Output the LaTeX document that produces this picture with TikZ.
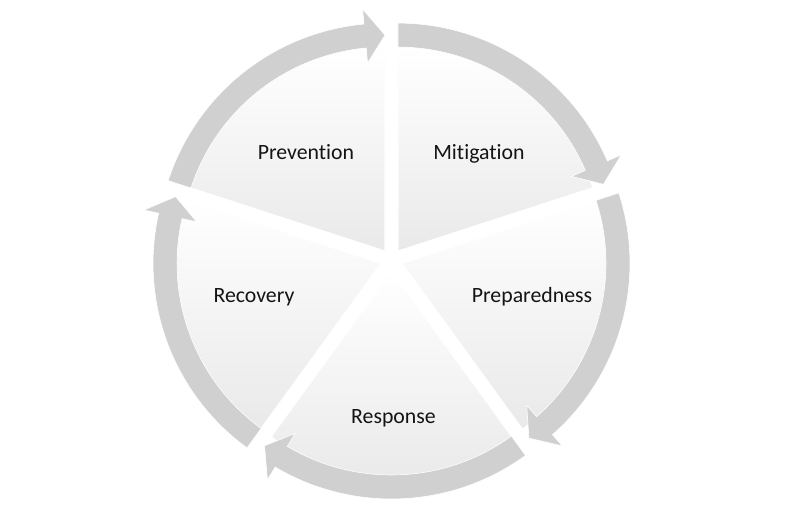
\documentclass[tikz,border=0pt]{standalone}
\usepackage{fontspec}
\setmainfont{Carlito}[Ligatures=NoCommon]
\definecolor{bandgray}{RGB}{208,208,208}
\definecolor{secgray}{RGB}{233,233,233}
\begin{document}
\begin{tikzpicture}[x=1pt,y=1pt,
  sector/.style={top color=white, bottom color=secgray, draw=white, line width=1.2pt},
  band/.style={fill=bandgray, draw=white, line width=0.6pt, line join=miter},
  lbl/.style={font=\fontsize{21.8}{26}\selectfont, text=black!92, anchor=base, inner sep=0pt}]
\fill[white] (0,0) rectangle (786,524);
\useasboundingbox (0,0) rectangle (786,524);
\coordinate (C) at (391.5,264);
\foreach \b in {126,54,-18,-90,198} {
  \pgfmathsetmacro\aa{\b+36}
  \pgfmathsetmacro\ab{\b-36}
  \pgfmathsetmacro\ah{\b-36+5.3}
  \begin{scope}[shift={(C)}]
  \begin{scope}[shift={(\b:11)}]
    \path[sector] (0,0) -- (\aa:205) arc[start angle=\aa, end angle=\ab, radius=205] -- cycle;
    \path[band] (\aa:228) arc[start angle=\aa, end angle=\ah, radius=228]
      -- (\ah:243) -- (\ab:216) -- (\ah:189) -- (\ah:204)
      arc[start angle=\ah, end angle=\aa, radius=204] -- cycle;
  \end{scope}
  \end{scope}
}
\node[lbl] (prev) at (306,364) {Prevention};
\node[lbl] (miti) at (479,364) {Mitigation};
\node[lbl] (prep) at (532,221) {Preparedness};
\node[lbl] (reco) at (254,221) {Recovery};
\node[lbl] (resp) at (393.5,100) {Response};
\end{tikzpicture}
\end{document}
